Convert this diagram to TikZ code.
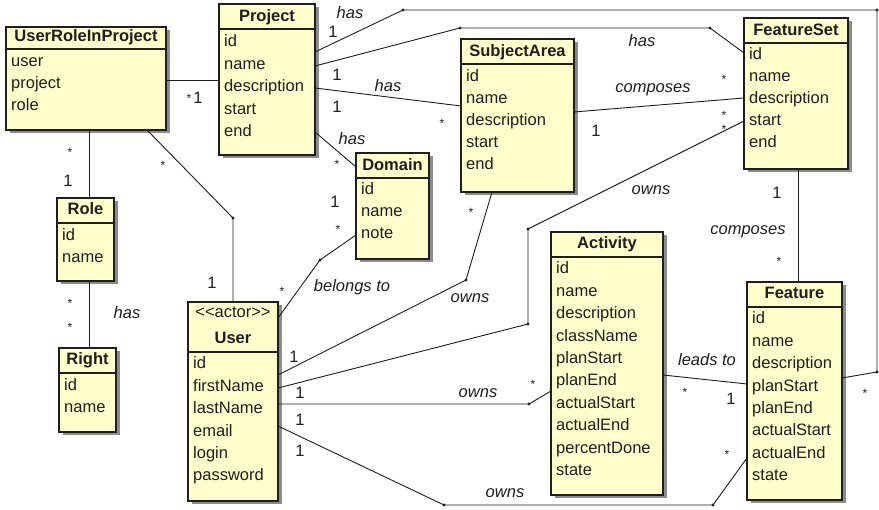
\documentclass[tikz,border=0pt]{standalone}
\usepackage{fontspec}
\setmainfont{Liberation Sans}
\usetikzlibrary{shadows}
\definecolor{classfill}{RGB}{255,255,204}
\definecolor{inkc}{RGB}{30,30,30}
\newcommand{\umlclass}[6]{% name, L, T, R, B, header line
  \node[cbox, minimum width={#4-#2}, minimum height={#5-#3}] (#1) at (#2,#3) {};
  \draw[hline] (#1.west |- 0,#6) -- (#1.east |- 0,#6);
}
\begin{document}
\begin{tikzpicture}[x=1pt,y=-1pt,
  font=\fontsize{16.5}{19}\selectfont,
  cbox/.style={draw=inkc, line width=1.3pt, fill=classfill, inner sep=0pt, outer sep=0pt, anchor=north west,
     drop shadow={shadow xshift=3.5pt, shadow yshift=-3.5pt, fill=black!45, opacity=1}},
  hline/.style={draw=inkc, line width=1.1pt},
  attr/.style={anchor=base west, inner sep=0pt, text=inkc},
  ttl/.style={anchor=base, inner sep=0pt, font=\fontsize{16.5}{19}\selectfont\bfseries, text=inkc},
  conn/.style={draw=inkc, line width=0.9pt},
  lbl/.style={inner sep=0pt, text=inkc},
  ital/.style={inner sep=0pt, text=inkc, font=\fontsize{16.5}{19}\selectfont\itshape},
  mstar/.style={inner sep=0pt, text=inkc, font=\fontsize{12}{12}\selectfont, yshift=-2.5pt},
  dot/.style={fill=inkc}]
\useasboundingbox (0,0) rectangle (879,510);
\fill[white] (0,0) rectangle (879,510);

% ---------------- classes ----------------
\umlclass{urip}{6}{27}{166}{130}{49}
\node[ttl] (urip-t) at (86,42) {UserRoleInProject};
\foreach \t [count=\i from 0] in {user,project,role}
  \node[attr] (urip-\i) at (11,67+22*\i) {\t};

\umlclass{proj}{219}{4}{315}{155}{29}
\node[ttl] (proj-t) at (267,22) {Project};
\foreach \t [count=\i from 0] in {id,name,description,start,end}
  \node[attr] (proj-\i) at (224,47+22.4*\i) {\t};

\umlclass{subj}{461}{39}{574}{192}{64}
\node[ttl] (subj-t) at (517.5,57) {SubjectArea};
\foreach \t [count=\i from 0] in {id,name,description,start,end}
  \node[attr] (subj-\i) at (466,82+22*\i) {\t};

\umlclass{fset}{744}{18}{848}{169}{43}
\node[ttl] (fset-t) at (796,36) {FeatureSet};
\foreach \t [count=\i from 0] in {id,name,description,start,end}
  \node[attr] (fset-\i) at (749,60+22*\i) {\t};

\umlclass{dom}{356}{153}{429}{259}{178}
\node[ttl] (dom-t) at (392.5,171) {Domain};
\foreach \t [count=\i from 0] in {id,name,note}
  \node[attr] (dom-\i) at (361,195+22*\i) {\t};

\umlclass{role}{57}{198}{114}{281}{223}
\node[ttl] (role-t) at (85.5,215) {Role};
\foreach \t [count=\i from 0] in {id,name}
  \node[attr] (role-\i) at (62,241+22*\i) {\t};

\umlclass{right}{59}{348}{116}{432}{373}
\node[ttl] (right-t) at (87.5,365) {Right};
\foreach \t [count=\i from 0] in {id,name}
  \node[attr] (right-\i) at (64,391+22*\i) {\t};

\umlclass{user}{188}{302}{278}{501}{352}
\node[lbl, anchor=base] (user-s) at (233,318) {<{}<actor>{}>};
\node[ttl] (user-t) at (233,344) {User};
\foreach \t [count=\i from 0] in {id,firstName,lastName,email,login,password}
  \node[attr] (user-\i) at (193,369+22.4*\i) {\t};

\umlclass{act}{551}{232}{663}{495}{257}
\node[ttl] (act-t) at (607,249) {Activity};
\foreach \t [count=\i from 0] in {id,name,description,className,planStart,planEnd,actualStart,actualEnd,percentDone,state}
  \node[attr] (act-\i) at (556,274+22.4*\i) {\t};

\umlclass{feat}{747}{282}{842}{500}{307}
\node[ttl] (feat-t) at (794.5,299) {Feature};
\foreach \t [count=\i from 0] in {id,name,description,planStart,planEnd,actualStart,actualEnd,state}
  \node[attr] (feat-\i) at (752,324+22.4*\i) {\t};

% ---------------- bend points ----------------
\coordinate (b1) at (233,218);
\coordinate (b2) at (403,10);
\coordinate (b3) at (877,10);
\coordinate (b4) at (877,372);
\coordinate (b5) at (460,28);
\coordinate (b6) at (710,28);
\coordinate (b7) at (320,260);
\coordinate (b8) at (466,280);
\coordinate (b9) at (528,229);
\coordinate (b10) at (528,324);
\coordinate (b11) at (529,404);
\coordinate (b12) at (444,505);
\coordinate (b13) at (713,505);

% ---------------- connectors ----------------
\draw[conn] (urip.east |- 0,80) -- (proj.west |- 0,80);
\draw[conn] (urip.south -| 89,0) -- (role.north -| 89,0);
\draw[conn] (urip.south -| 147,0) -- (b1) -- (user.north -| b1);
\draw[conn] (role.south -| 89,0) -- (right.north -| 89,0);
\draw[conn] (proj.east |- 0,132) -- (dom.west |- 0,167);
\draw[conn] (proj.east |- 0,88) -- (subj.west |- 0,106);
\draw[conn] (proj.east |- 0,66) -- (b5) -- (b6) -- (fset.west |- 0,53);
\draw[conn] (proj.east |- 0,52) -- (b2) -- (b3) -- (b4) -- (feat.east |- 0,378);
\draw[conn] (subj.east |- 0,112) -- (fset.west |- 0,98);
\draw[conn] (fset.south -| 798,0) -- (feat.north -| 798,0);
\draw[conn] (act.east |- 0,375) -- (feat.west |- 0,384);
\draw[conn] (user.east |- 0,318) -- (b7) -- (dom.west |- 0,235);
\draw[conn] (user.east |- 0,375) -- (b8) -- (subj.south -| 492,0);
\draw[conn] (user.east |- 0,388) -- (b10) -- (b9) -- (fset.west |- 0,121);
\draw[conn] (user.east |- 0,404) -- (b11) -- (act.west |- 0,391);
\draw[conn] (user.east |- 0,426) -- (b12) -- (b13) -- (feat.west |- 0,458);

\foreach \c in {b1,b2,b3,b4,b5,b6,b7,b8,b9,b10,b11,b12,b13}
  \fill[dot] (\c) circle (1.7pt);

% ---------------- labels ----------------
% URIP - Project
\node[mstar] (l1) at (189,96) {*};
\node[lbl] (l2) at (198,98) {1};
% URIP - Role
\node[mstar] (l3) at (70,150) {*};
\node[lbl] (l4) at (68,181) {1};
% URIP - User
\node[mstar] (l5) at (163,163) {*};
\node[lbl] (l6) at (212,283) {1};
% Role - Right
\node[mstar] (l7) at (70,301) {*};
\node[mstar] (l8) at (70,325) {*};
\node[ital] (l9) at (127,313) {has};
% Project - Domain
\node[ital] (l10) at (352,139) {has};
\node[mstar] (l11) at (337,162) {*};
% Project - SubjectArea
\node[ital] (l12) at (388,86) {has};
\node[lbl] (l13) at (337,107) {1};
\node[mstar] (l14) at (442,121) {*};
% Project - FeatureSet
\node[ital] (l15) at (642,41) {has};
\node[lbl] (l16) at (337,75) {1};
\node[mstar] (l17) at (724,77) {*};
% Project - Feature
\node[ital] (l18) at (350,13) {has};
\node[lbl] (l19) at (333,32) {1};
\node[mstar] (l20) at (865,391) {*};
% SubjectArea - FeatureSet
\node[ital] (l21) at (653,90) {composes};
\node[lbl] (l22) at (596,131) {1};
\node[mstar] (l23) at (724,113) {*};
% FeatureSet - User
\node[ital] (l24) at (651,190) {owns};
\node[mstar] (l25) at (724,127) {*};
% SubjectArea - User
\node[ital] (l26) at (470,298) {owns};
\node[mstar] (l27) at (471,210) {*};
\node[lbl] (l28) at (294,357) {1};
% Activity - User
\node[ital] (l29) at (478,393) {owns};
\node[mstar] (l30) at (533,382) {*};
\node[lbl] (l31) at (300,393) {1};
% Feature - User
\node[ital] (l32) at (505,493) {owns};
\node[mstar] (l33) at (727,452) {*};
\node[lbl] (l34) at (300,420) {1};
\node[lbl] (l35) at (300,451) {1};
% FeatureSet - Feature
\node[lbl] (l36) at (777,193) {1};
\node[ital] (l37) at (748,232) {composes};
\node[mstar] (l38) at (779,259) {*};
% Activity - Feature
\node[ital] (l39) at (707,360) {leads to};
\node[mstar] (l40) at (685,390) {*};
\node[lbl] (l41) at (731,399) {1};
% belongs to
\node[ital] (l42) at (352,287) {belongs to};
\node[mstar] (l43) at (282,289) {*};
\node[lbl] (l44) at (335,202) {1};
\node[mstar] (l45) at (338,227) {*};
\end{tikzpicture}
\end{document}
